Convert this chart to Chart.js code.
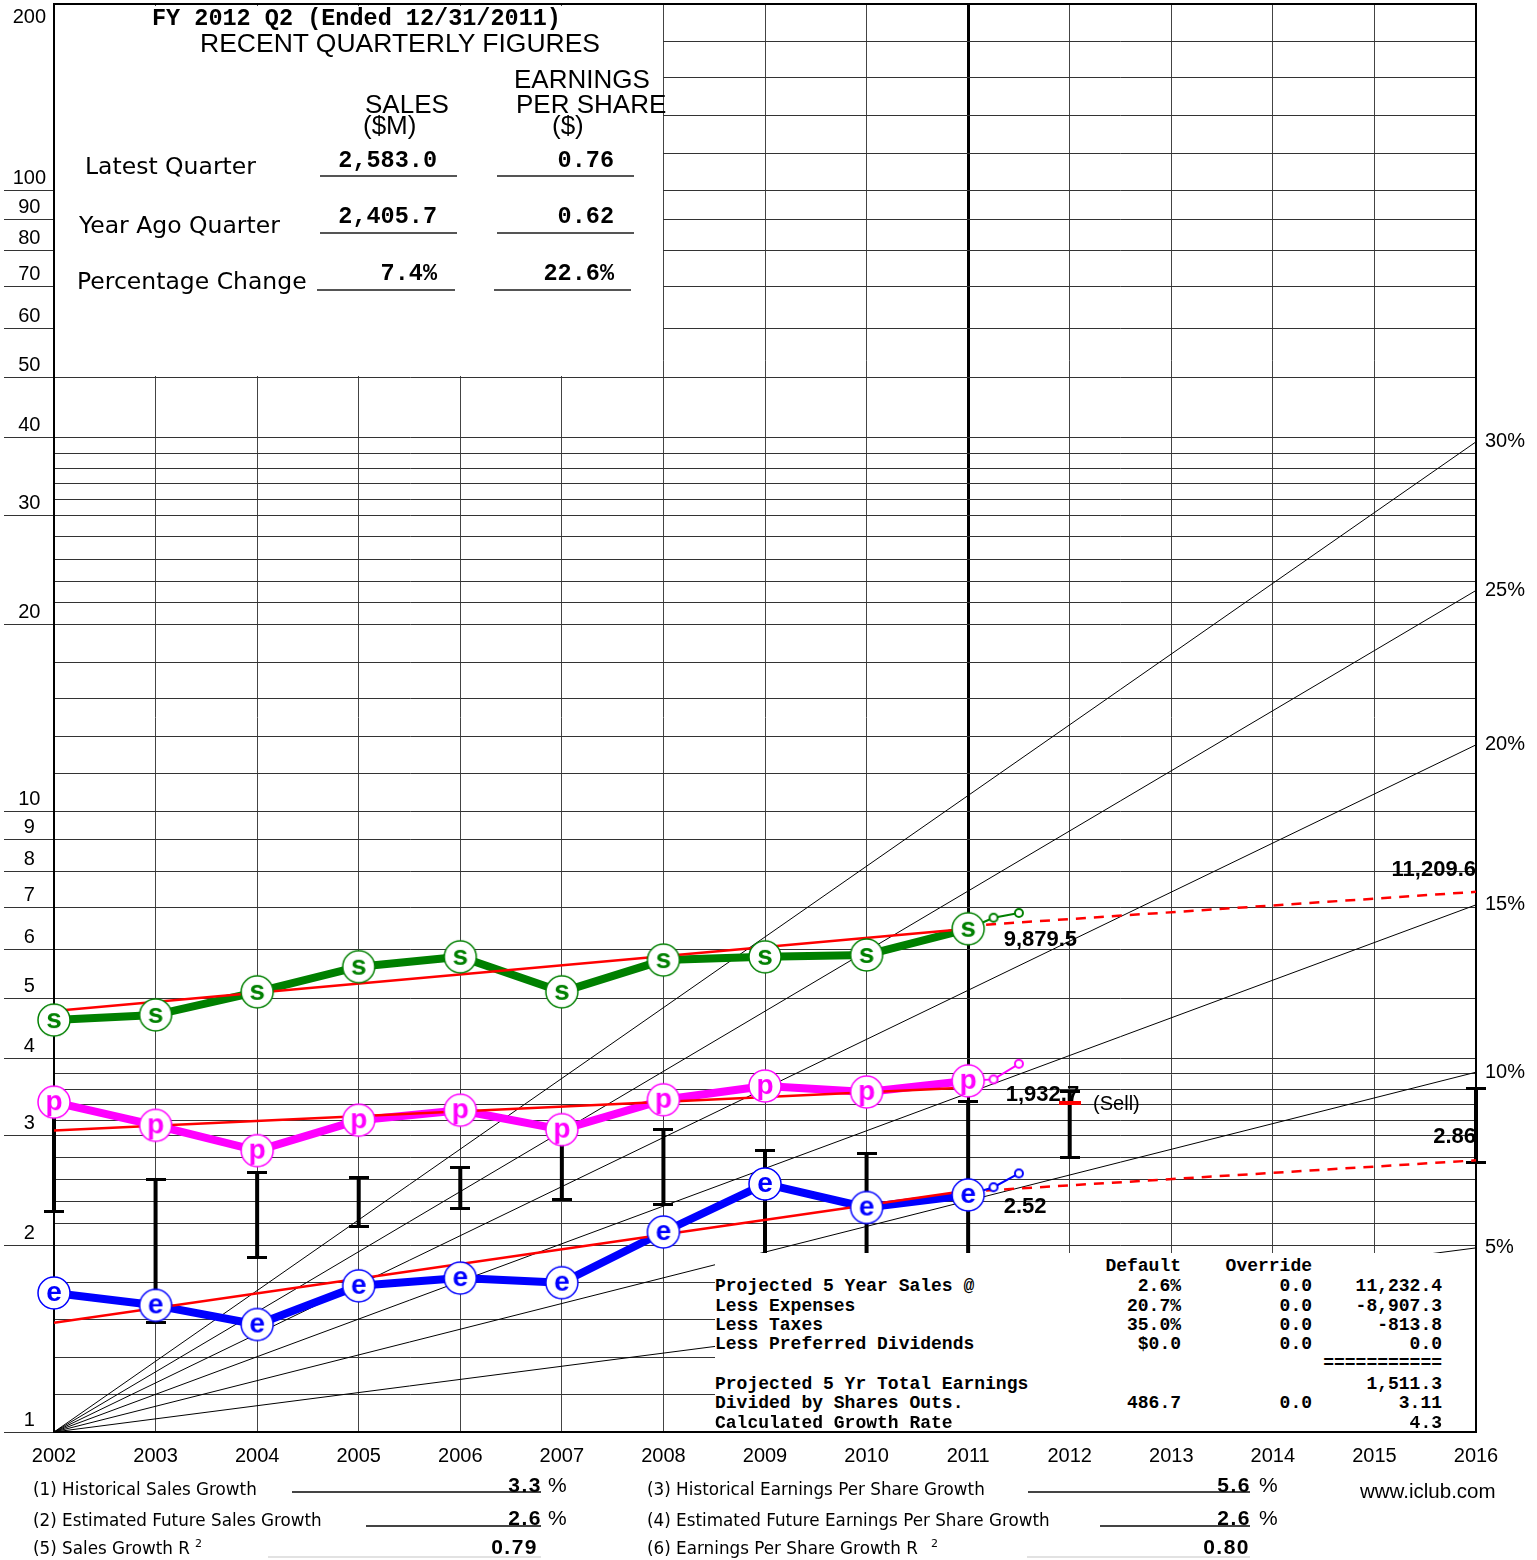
<!DOCTYPE html>
<html lang="en">
<head>
<meta charset="UTF-8">
<title>Stock Selection Guide</title>
<script src="https://cdn.jsdelivr.net/npm/chart.js"></script>
<style>
  body { margin: 0; background: #fff; }
  #wrap { position: relative; width: 1537px; height: 1560px; }
  #wrap canvas { display: block; }
  .ov { position: absolute; white-space: nowrap; line-height: 1; color: #000; }
  .hv { font-family: "Liberation Sans", Arial, sans-serif; }
  .lu { font-family: "DejaVu Sans", sans-serif; }
  .mo { font-family: "Liberation Mono", "Courier New", monospace; font-weight: bold; }
  .box { position: absolute; background: #fff; }
  .rule { position: absolute; height: 2px; background: #555; }
  .frule { position: absolute; height: 1.5px; background: #444; }
  .num { font-family: "Liberation Sans", Arial, sans-serif; font-weight: bold; font-size: 21px; letter-spacing: 1.5px; }
  .tb { font-size: 18px; }
</style>
</head>
<body>
<div id="wrap">
  <canvas id="ssg"></canvas>

  <!-- recent quarterly figures box -->
  <div class="box" style="left:55px;top:6px;width:608px;height:370px"></div>
  <div class="ov mo" style="left:152px;top:7px;font-size:23.5px">FY 2012 Q2 (Ended 12/31/2011)</div>
  <div class="ov hv" style="left:200px;top:30px;font-size:26.5px">RECENT QUARTERLY FIGURES</div>
  <div class="ov hv" style="left:514px;top:66px;font-size:26px">EARNINGS</div>
  <div class="ov hv" style="left:516px;top:91px;font-size:26px">PER SHARE</div>
  <div class="ov hv" style="left:552px;top:112px;font-size:26px">($)</div>
  <div class="ov hv" style="left:365px;top:91px;font-size:26px">SALES</div>
  <div class="ov hv" style="left:363px;top:112px;font-size:26px">($M)</div>

  <div class="ov lu" style="left:85px;top:155px;font-size:23.5px">Latest Quarter</div>
  <div class="ov lu" style="left:79px;top:214px;font-size:23.5px">Year Ago Quarter</div>
  <div class="ov lu" style="left:77px;top:270px;font-size:23.5px">Percentage Change</div>

  <div class="ov mo" style="right:1100px;top:149px;font-size:23.5px">2,583.0</div>
  <div class="ov mo" style="right:923px;top:149px;font-size:23.5px">0.76</div>
  <div class="ov mo" style="right:1100px;top:205px;font-size:23.5px">2,405.7</div>
  <div class="ov mo" style="right:923px;top:205px;font-size:23.5px">0.62</div>
  <div class="ov mo" style="right:1100px;top:262px;font-size:23.5px">7.4%</div>
  <div class="ov mo" style="right:923px;top:262px;font-size:23.5px">22.6%</div>

  <div class="rule" style="left:320px;top:175px;width:137px"></div>
  <div class="rule" style="left:497px;top:175px;width:137px"></div>
  <div class="rule" style="left:320px;top:232px;width:137px"></div>
  <div class="rule" style="left:497px;top:232px;width:137px"></div>
  <div class="rule" style="left:317px;top:289px;width:138px"></div>
  <div class="rule" style="left:494px;top:289px;width:137px"></div>

  <!-- projection table -->
  <div class="box" style="left:715px;top:1253px;width:760px;height:178px"></div>
  <div class="ov mo tb" style="right:356px;top:1257px">Default</div>
  <div class="ov mo tb" style="right:225px;top:1257px">Override</div>

  <div class="ov mo tb" style="left:715px;top:1277px">Projected 5 Year Sales @</div>
  <div class="ov mo tb" style="right:356px;top:1277px">2.6%</div>
  <div class="ov mo tb" style="right:225px;top:1277px">0.0</div>
  <div class="ov mo tb" style="right:95px;top:1277px">11,232.4</div>

  <div class="ov mo tb" style="left:715px;top:1297px">Less Expenses</div>
  <div class="ov mo tb" style="right:356px;top:1297px">20.7%</div>
  <div class="ov mo tb" style="right:225px;top:1297px">0.0</div>
  <div class="ov mo tb" style="right:95px;top:1297px">-8,907.3</div>

  <div class="ov mo tb" style="left:715px;top:1316px">Less Taxes</div>
  <div class="ov mo tb" style="right:356px;top:1316px">35.0%</div>
  <div class="ov mo tb" style="right:225px;top:1316px">0.0</div>
  <div class="ov mo tb" style="right:95px;top:1316px">-813.8</div>

  <div class="ov mo tb" style="left:715px;top:1335px">Less Preferred Dividends</div>
  <div class="ov mo tb" style="right:356px;top:1335px">$0.0</div>
  <div class="ov mo tb" style="right:225px;top:1335px">0.0</div>
  <div class="ov mo tb" style="right:95px;top:1335px">0.0</div>

  <div class="ov mo tb" style="right:95px;top:1354px">===========</div>

  <div class="ov mo tb" style="left:715px;top:1375px">Projected 5 Yr Total Earnings</div>
  <div class="ov mo tb" style="right:95px;top:1375px">1,511.3</div>

  <div class="ov mo tb" style="left:715px;top:1394px">Divided by Shares Outs.</div>
  <div class="ov mo tb" style="right:356px;top:1394px">486.7</div>
  <div class="ov mo tb" style="right:225px;top:1394px">0.0</div>
  <div class="ov mo tb" style="right:95px;top:1394px">3.11</div>

  <div class="ov mo tb" style="left:715px;top:1414px">Calculated Growth Rate</div>
  <div class="ov mo tb" style="right:95px;top:1414px">4.3</div>

  <!-- footer -->
  <div class="ov lu" style="left:33px;top:1481px;font-size:16.8px">(1) Historical Sales Growth</div>
  <div class="ov lu" style="left:33px;top:1512px;font-size:16.8px">(2) Estimated Future Sales Growth</div>
  <div class="ov lu" style="left:33px;top:1540px;font-size:16.8px">(5) Sales Growth R</div>
  <div class="ov lu" style="left:195px;top:1538px;font-size:11px">2</div>
  <div class="ov lu" style="left:647px;top:1481px;font-size:16.8px">(3) Historical Earnings Per Share Growth</div>
  <div class="ov lu" style="left:647px;top:1512px;font-size:16.8px">(4) Estimated Future Earnings Per Share Growth</div>
  <div class="ov lu" style="left:647px;top:1540px;font-size:16.8px">(6) Earnings Per Share Growth R</div>
  <div class="ov lu" style="left:931px;top:1538px;font-size:11px">2</div>

  <div class="frule" style="left:292px;top:1491px;width:249px"></div>
  <div class="frule" style="left:366px;top:1525px;width:175px"></div>
  <div class="frule" style="left:1028px;top:1491px;width:222px"></div>
  <div class="frule" style="left:1100px;top:1525px;width:150px"></div>
  <div class="rule" style="left:268px;top:1556px;width:273px;background:#e2e2e2"></div>
  <div class="rule" style="left:1027px;top:1556px;width:223px;background:#e2e2e2"></div>

  <div class="ov num" style="right:995px;top:1474px">3.3</div>
  <div class="ov hv" style="left:548px;top:1474px;font-size:21px">%</div>
  <div class="ov num" style="right:995px;top:1507px">2.6</div>
  <div class="ov hv" style="left:548px;top:1507px;font-size:21px">%</div>
  <div class="ov num" style="right:999px;top:1536px">0.79</div>

  <div class="ov num" style="right:286px;top:1474px">5.6</div>
  <div class="ov hv" style="left:1259px;top:1474px;font-size:21px">%</div>
  <div class="ov num" style="right:286px;top:1507px">2.6</div>
  <div class="ov hv" style="left:1259px;top:1507px;font-size:21px">%</div>
  <div class="ov num" style="right:287px;top:1536px">0.80</div>

  <div class="ov hv" style="left:1360px;top:1481px;font-size:20.5px">www.iclub.com</div>
</div>

<script>
// yearly history
const years = [2002, 2003, 2004, 2005, 2006, 2007, 2008, 2009, 2010, 2011];
const sales = [4.61, 4.70, 5.12, 5.62, 5.83, 5.12, 5.76, 5.83, 5.87, 6.47];
const pretax = [3.40, 3.12, 2.84, 3.18, 3.30, 3.07, 3.43, 3.61, 3.53, 3.68];
const eps = [1.675, 1.60, 1.49, 1.72, 1.77, 1.74, 2.10, 2.51, 2.30, 2.41];

// recent quarters after the last fiscal year
const quarterYears = [2011, 2011.25, 2011.5];
const salesQtr = [6.47, 6.74, 6.86];
const pretaxQtr = [3.68, 3.70, 3.92];
const epsQtr = [2.41, 2.48, 2.61];

// price high / low bars
const priceYears = [2002, 2003, 2004, 2005, 2006, 2007, 2008, 2009, 2010, 2011, 2012, 2016];
const priceHigh = [3.35, 2.55, 2.62, 2.57, 2.67, 3.02, 3.07, 2.84, 2.81, 3.41, 3.54, 3.58];
const priceLow = [2.27, 1.50, 1.91, 2.14, 2.29, 2.37, 2.33, 1.85, 1.85, 1.85, 2.77, 2.72];
const sellYears = [2012];
const sellPrice = [3.39];

// trend lines
const trendYears = [2002, 2011];
const salesTrend = [4.77, 6.47];
const pretaxTrend = [3.06, 3.59];
const epsTrend = [1.50, 2.45];
const futureYears = [2011, 2016];
const salesFuture = [6.54, 7.42];
const epsFuture = [2.44, 2.74];

// growth rate guide lines, all from 1.0 in 2002
const growthEnd = [1.98, 3.80, 7.07, 12.8, 22.7, 39.4];
const growthLabels = ['5%', '10%', '15%', '20%', '25%', '30%'];

// log grid of the form
const yGrid = [1, 1.15, 1.32, 1.52, 1.74, 2, 2.17, 2.35, 2.55, 2.77, 3, 3.18, 3.37, 3.57, 3.78,
  4, 5, 6, 7, 8, 9, 10, 11.5, 13.2, 15.2, 17.4, 20, 21.7, 23.5, 25.5, 27.7, 30, 31.8, 33.7, 35.7, 37.8,
  40, 50, 60, 70, 80, 90, 100, 115, 132, 152, 174];
const yLabelled = [1, 2, 3, 4, 5, 6, 7, 8, 9, 10, 20, 30, 40, 50, 60, 70, 80, 90, 100];
const topLabelAt = 182; // the "200" label sits just under the top edge

const notes = [
  { text: '9,879.5', x: 2011.35, y: 6.21, align: 'left', bold: true },
  { text: '1,932.7', x: 2011.37, y: 3.49, align: 'left', bold: true },
  { text: '(Sell)', x: 2012.23, y: 3.365, align: 'left', bold: false },
  { text: '2.52', x: 2011.35, y: 2.305, align: 'left', bold: true },
  { text: '11,209.6', x: 2016, y: 8.05, align: 'right', bold: true },
  { text: '2.86', x: 2016, y: 2.99, align: 'right', bold: true }
];

const SANS = '"Liberation Sans", Arial, sans-serif';
Chart.defaults.font.family = SANS;
Chart.defaults.color = '#000';
// keep point overflow from pushing the plot frame inwards
Chart.defaults.elements.point.hoverRadius = 0;
Chart.defaults.elements.point.hoverBorderWidth = 0;

function pts(xs, ys) {
  return xs.map((x, i) => ({ x: x, y: ys[i] }));
}

function makeCanvas(w, h) {
  const c = document.createElement('canvas');
  c.width = w;
  c.height = h;
  return c;
}

function makeMarker(letter, color) {
  const c = makeCanvas(36, 36);
  const g = c.getContext('2d');
  g.beginPath();
  g.arc(18, 18, 16, 0, Math.PI * 2);
  g.fillStyle = '#fff';
  g.fill();
  g.lineWidth = 1.5;
  g.strokeStyle = color;
  g.stroke();
  g.fillStyle = color;
  g.font = 'bold 28px ' + SANS;
  g.textAlign = 'center';
  g.fillText(letter, 18, 25.5);
  return c;
}

function makeCap(color, w, h) {
  const c = makeCanvas(w, h);
  const g = c.getContext('2d');
  g.fillStyle = color;
  g.fillRect(0, 0, w, h);
  return c;
}

function makeDot(color) {
  const c = makeCanvas(12, 12);
  const g = c.getContext('2d');
  g.beginPath();
  g.arc(6, 6, 4, 0, Math.PI * 2);
  g.fillStyle = '#fff';
  g.fill();
  g.lineWidth = 2;
  g.strokeStyle = color;
  g.stroke();
  return c;
}

// no extra room for end labels: the frame is fixed
function noPad(s) {
  s.paddingTop = 0;
  s.paddingBottom = 0;
  s.paddingLeft = 0;
  s.paddingRight = 0;
}

const GREEN = '#008000', MAGENTA = '#ff00ff', BLUE = '#0000ff', RED = '#ff0000';

const priceData = priceYears.flatMap((yr, i) => [
  { x: yr, y: priceHigh[i] }, { x: yr, y: priceLow[i] }, { x: yr, y: null }
]);
const growthData = growthEnd.flatMap(v => [
  { x: 2002, y: 1 }, { x: 2016, y: v }, { x: 2016, y: null }
]);

// image point styles ignore the radius, a tiny one keeps them drawn
function imagePoints(img) {
  return { pointStyle: img, pointRadius: 0.1, pointBorderWidth: 0 };
}

function seriesLine(data, color, width) {
  return { data: data, borderColor: color, borderWidth: width, pointRadius: 0,
    borderJoinStyle: 'round', borderCapStyle: 'round', order: 8 };
}
function trendLine(data, dashed) {
  return { data: data, borderColor: RED, borderWidth: 2.5, pointRadius: 0,
    borderDash: dashed ? [10, 8] : [], order: 7 };
}
function quarterLine(data, color) {
  const dot = makeDot(color);
  return Object.assign({ data: data, borderColor: color, borderWidth: 2, order: 6, clip: false },
    imagePoints(dot), { pointStyle: ctx => ctx.dataIndex === 0 ? false : dot });
}
function markers(data, letter, color) {
  return Object.assign({ data: data, showLine: false, order: 1, clip: false },
    imagePoints(makeMarker(letter, color)));
}

const notesPlugin = {
  id: 'notes',
  afterDatasetsDraw(chart) {
    const { ctx, chartArea, scales } = chart;
    ctx.save();
    // top edge of the frame
    ctx.strokeStyle = '#000';
    ctx.lineWidth = 2;
    ctx.beginPath();
    ctx.moveTo(chartArea.left, chartArea.top);
    ctx.lineTo(chartArea.right, chartArea.top);
    ctx.stroke();

    ctx.fillStyle = '#000';
    ctx.textBaseline = 'middle';
    notes.forEach(n => {
      ctx.font = (n.bold ? 'bold 22px ' : '20px ') + SANS;
      ctx.textAlign = n.align;
      ctx.fillText(n.text, scales.x.getPixelForValue(n.x), scales.y.getPixelForValue(n.y));
    });
    ctx.restore();
  }
};

new Chart(document.getElementById('ssg'), {
  type: 'line',
  data: {
    datasets: [
      { data: growthData, borderColor: '#000', borderWidth: 1, pointRadius: 0, order: 10 },
      Object.assign({ data: priceData, borderColor: '#000', borderWidth: 4, order: 9, clip: false },
        imagePoints(makeCap('#000', 20, 3))),
      Object.assign({ data: pts(sellYears, sellPrice), showLine: false, order: 8.5, clip: false },
        imagePoints(makeCap(RED, 22, 4))),
      seriesLine(pts(years, sales), GREEN, 8),
      seriesLine(pts(years, pretax), MAGENTA, 8),
      seriesLine(pts(years, eps), BLUE, 8),
      trendLine(pts(trendYears, salesTrend), false),
      trendLine(pts(trendYears, pretaxTrend), false),
      trendLine(pts(trendYears, epsTrend), false),
      trendLine(pts(futureYears, salesFuture), true),
      trendLine(pts(futureYears, epsFuture), true),
      quarterLine(pts(quarterYears, salesQtr), GREEN),
      quarterLine(pts(quarterYears, pretaxQtr), MAGENTA),
      quarterLine(pts(quarterYears, epsQtr), BLUE),
      markers(pts(years, sales), 's', GREEN),
      markers(pts(years, pretax), 'p', MAGENTA),
      markers(pts(years, eps), 'e', BLUE)
    ]
  },
  options: {
    responsive: true,
    maintainAspectRatio: false,
    devicePixelRatio: 1,
    animation: false,
    events: [],
    layout: { padding: { top: 4 } },
    plugins: { legend: { display: false }, tooltip: { enabled: false } },
    scales: {
      x: {
        type: 'linear',
        min: 2002,
        max: 2016,
        bounds: 'data',
        ticks: { stepSize: 1, autoSkip: false, maxRotation: 0, padding: 12,
          font: { size: 20 }, callback: v => String(v) },
        grid: {
          drawTicks: false,
          color: ctx => ctx.tick && ctx.tick.value === 2011 ? '#000' : '#444',
          lineWidth: ctx => ctx.tick && ctx.tick.value === 2011 ? 3 : 1
        },
        border: { color: '#000', width: 2 },
        afterFit(s) { s.height = 128; noPad(s); }
      },
      y: {
        type: 'logarithmic',
        min: 1,
        max: 200,
        bounds: 'data',
        afterBuildTicks(s) {
          s.ticks = yGrid.concat([topLabelAt]).map(v => ({ value: v }));
        },
        ticks: {
          autoSkip: false,
          font: { size: 20 },
          crossAlign: 'center',
          padding: -42,
          labelOffset: -12,
          callback: v => v === topLabelAt ? '200' : (yLabelled.includes(v) ? String(v) : '')
        },
        grid: {
          tickLength: 50,
          lineWidth: 1,
          color: ctx => ctx.tick && ctx.tick.value === topLabelAt ? 'rgba(0,0,0,0)' : '#333',
          tickColor: ctx => ctx.tick && yLabelled.includes(ctx.tick.value) ? '#333' : 'rgba(0,0,0,0)'
        },
        border: { color: '#000', width: 2 },
        afterFit(s) { s.width = 54; noPad(s); }
      },
      yr: {
        type: 'logarithmic',
        axis: 'y',
        position: 'right',
        min: 1,
        max: 200,
        bounds: 'data',
        afterBuildTicks(s) {
          s.ticks = growthEnd.map(v => ({ value: v }));
        },
        ticks: { autoSkip: false, font: { size: 20 }, padding: 9,
          callback: (v, i) => growthLabels[i] },
        grid: { drawOnChartArea: false, drawTicks: false },
        border: { color: '#000', width: 2 },
        afterFit(s) { s.width = 61; noPad(s); }
      }
    }
  },
  plugins: [notesPlugin]
});
</script>
</body>
</html>
